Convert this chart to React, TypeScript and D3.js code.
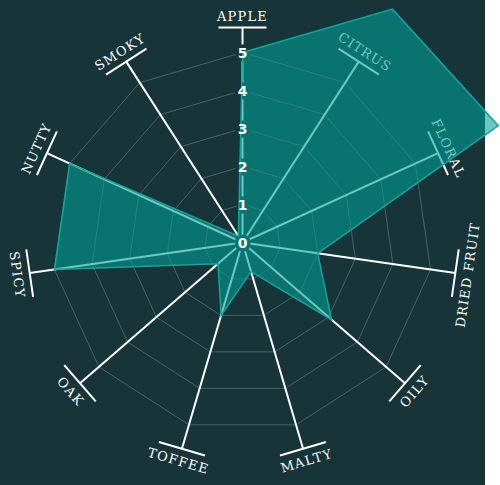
import * as d3 from "d3";
import React, { useEffect, useRef } from "react";

const categories = ["APPLE", "CITRUS", "FLORAL", "DRIED FRUIT", "OILY", "MALTY", "TOFFEE", "OAK", "SPICY", "NUTTY", "SMOKY"];
const scores = [5, 7.3, 7.4, 2, 3.1, 0.8, 2, 0.85, 5, 5, 0.2];
const tickValues = [0, 1, 2, 3, 4, 5];

export default function App() {
  const chartRef = useRef<SVGSVGElement | null>(null);

  useEffect(() => {
    document.body.style.margin = "0";
    if (!chartRef.current) return;

    const width = 485;
    const height = 485;
    const cx = 242.5;
    const cy = 242.5;
    const bg = "#173539";

    const svg = d3.select(chartRef.current);
    svg.selectAll("*").remove();

    svg.append("rect").attr("width", width).attr("height", height).attr("fill", bg);

    const r = d3.scaleLinear().domain([0, 5]).range([0, 190]);
    const angle = d3.scaleLinear().domain([0, categories.length]).range([0, 2 * Math.PI]);
    const axisEnd = 215;

    const g = svg.append("g").attr("transform", `translate(${cx},${cy})`);

    // grid rings
    const ringLine = d3.lineRadial<number>()
      .angle((_, i) => angle(i))
      .curve(d3.curveLinearClosed);

    g.append("g")
      .selectAll("path")
      .data(tickValues.filter(t => t > 0))
      .join("path")
      .attr("d", t => ringLine.radius(() => r(t))(categories.map(() => t)))
      .attr("fill", "none")
      .attr("stroke", "rgba(255,255,255,0.22)")
      .attr("stroke-width", 1);

    // axes
    const axes = g.append("g")
      .selectAll("g")
      .data(categories)
      .join("g")
      .attr("transform", (_, i) => `rotate(${(angle(i) * 180) / Math.PI})`);

    axes.append("line")
      .attr("x1", 0).attr("y1", 0)
      .attr("x2", 0).attr("y2", -axisEnd)
      .attr("stroke", "#fff")
      .attr("stroke-width", 2);

    axes.append("line")
      .attr("x1", -24).attr("x2", 24)
      .attr("y1", -axisEnd).attr("y2", -axisEnd)
      .attr("stroke", "#fff")
      .attr("stroke-width", 2);

    // bottom half labels get flipped so they stay readable
    axes.append("text")
      .attr("transform", (_, i) => {
        const deg = (angle(i) * 180) / Math.PI;
        return deg > 90 && deg < 270 ? `translate(0,${-axisEnd}) rotate(180)` : `translate(0,${-axisEnd})`;
      })
      .attr("y", (_, i) => {
        const deg = (angle(i) * 180) / Math.PI;
        return deg > 90 && deg < 270 ? 17 : -7;
      })
      .attr("text-anchor", "middle")
      .attr("fill", "#fff")
      .style("font-family", "'DejaVu Serif', serif")
      .style("font-size", "13px")
      .style("letter-spacing", "1.2px")
      .text(d => d);

    const tickText = (layer: d3.Selection<SVGGElement, unknown, null, undefined>) =>
      layer.selectAll("text")
        .data(tickValues)
        .join("text")
        .attr("x", 0)
        .attr("y", t => -r(t))
        .attr("dy", "0.36em")
        .attr("text-anchor", "middle")
        .style("font-family", "'DejaVu Sans', sans-serif")
        .style("font-weight", "bold")
        .style("font-size", "14px")
        .text(t => t);

    // halo behind tick numbers (cuts the apple axis)
    tickText(g.append("g"))
      .attr("fill", bg)
      .attr("stroke", bg)
      .attr("stroke-width", 7)
      .attr("stroke-linejoin", "round");

    // flavour polygon
    const area = d3.lineRadial<number>()
      .angle((_, i) => angle(i))
      .radius(d => r(d))
      .curve(d3.curveLinearClosed);

    g.append("path")
      .attr("d", area(scores))
      .attr("fill", "rgba(0,160,152,0.58)")
      .attr("stroke", "#12a59b")
      .attr("stroke-width", 1.5)
      .attr("stroke-linejoin", "miter");

    tickText(g.append("g")).attr("fill", "#fff");
  }, []);

  return <svg ref={chartRef} width={485} height={485} style={{ display: "block", overflow: "visible" }}></svg>;
}
